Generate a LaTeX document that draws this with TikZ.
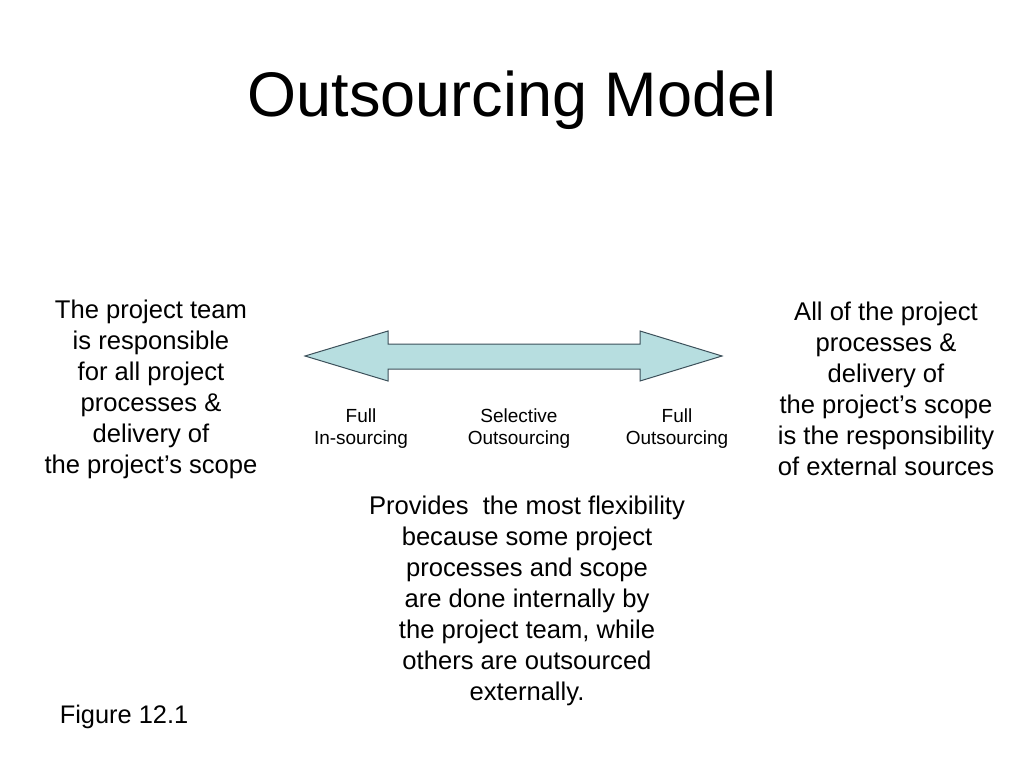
\documentclass[tikz,border=0pt]{standalone}
\usepackage{fontspec}
\setmainfont{Liberation Sans}
\usepackage{tikz}
\tikzset{
  sidetext/.style={align=center, font=\fontsize{25.6}{31}\selectfont},
  tick/.style={align=center, font=\fontsize{19}{22}\selectfont},
}
\begin{document}
\begin{tikzpicture}[x=1pt, y=-1pt]
		\useasboundingbox (0,0) rectangle (1024,768);
		% title
		\node (title) at (512,100) {\fontsize{63}{70}\selectfont Outsourcing Model};
		% double arrow
		\draw[fill={rgb,255:red,183;green,222;blue,224}, draw={rgb,255:red,60;green,80;blue,90}, line width=1pt]
			(305,356) -- (388,331) -- (388,344) -- (640,344) -- (640,331) -- (722,356)
			-- (640,381) -- (640,369) -- (388,369) -- (388,381) -- cycle;
		% labels below the arrow
		\node[tick] (insrc) at (361,429) {Full\\In-sourcing};
		\node[tick] (selsrc) at (519,429) {Selective\\Outsourcing};
		\node[tick] (outsrc) at (677,429) {Full\\Outsourcing};
		% side texts
		\node[sidetext] (left) at (151,389) {The project team\\is responsible\\for all project\\processes \&\\delivery of\\the project’s scope};
		\node[sidetext] (right) at (886,389) {All of the project\\processes \&\\delivery of\\the project’s scope\\is the responsibility\\of external sources};
		\node[sidetext] (middle) at (527,601) {Provides\ \ the most flexibility\\because some project\\processes and scope\\are done internally by\\the project team, while\\others are outsourced\\externally.};
		\node[font=\fontsize{25.4}{28}\selectfont] (fig) at (124,717) {Figure 12.1};
	\end{tikzpicture}
\end{document}
